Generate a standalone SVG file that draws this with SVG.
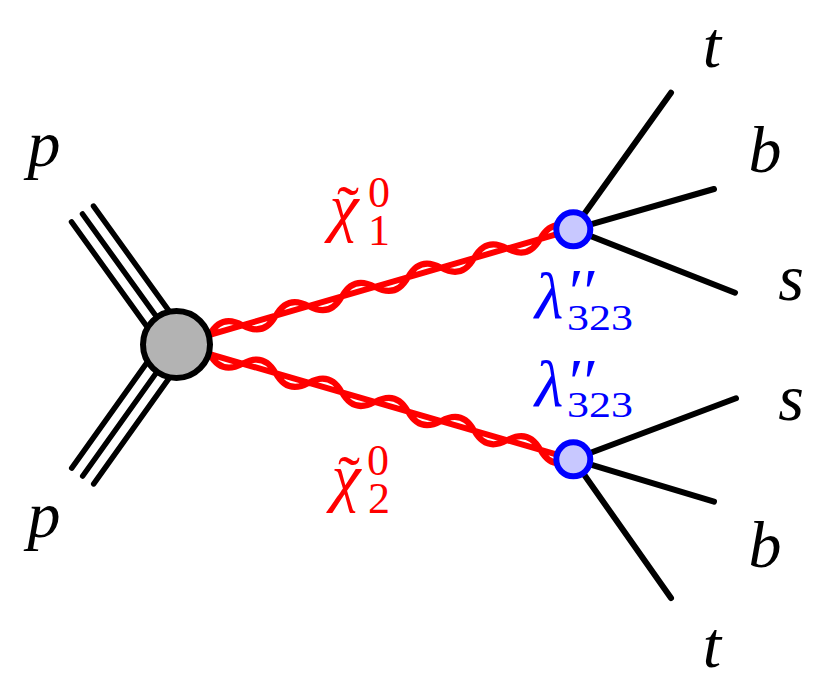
<svg xmlns="http://www.w3.org/2000/svg" width="830" height="689" viewBox="0 0 830 689">
<style>
.f{stroke:#000;stroke-width:6;stroke-linecap:round;fill:none}
.pr{stroke:#000;stroke-width:5.5;stroke-linecap:round;fill:none}
.g{stroke:#ff0000;stroke-width:6;fill:none;stroke-linecap:round;stroke-linejoin:round}
.t{font-family:"Liberation Serif","DejaVu Serif",serif;font-style:italic;font-size:66px}
.n{font-family:"Liberation Serif","DejaVu Serif",serif;font-style:normal}
.blk{fill:#000}
.red{fill:#ff0000}
.blue{fill:#0000ff}
.blob{fill:#b3b3b3;stroke:#000;stroke-width:6}
.vtx{fill:#c8c8ff;stroke:#0000ff;stroke-width:6}
</style>
<defs>
<path id="gw" d="M0,0 L413.2,0 M0,0 q17.22,17 34.43,0 t34.43,0 t34.43,0 t34.43,0 t34.43,0 t34.43,0 t34.43,0 t34.43,0 t34.43,0 t34.43,0 t34.43,0 t34.43,0"/>
</defs>
<rect width="830" height="689" fill="#fff"/>
<g id="connectors">
  <g id="proton1">
    <line class="pr" x1="93.5" y1="206.1" x2="187.5" y2="336.6"/>
    <line class="pr" x1="82.5" y1="214" x2="176.5" y2="344.5"/>
    <line class="pr" x1="71.5" y1="221.9" x2="165.5" y2="352.4"/>
  </g>
  <g id="proton2">
    <line class="pr" x1="93.7" y1="483.9" x2="187.5" y2="352.4"/>
    <line class="pr" x1="82.7" y1="476" x2="176.5" y2="344.5"/>
    <line class="pr" x1="71.7" y1="468.1" x2="165.5" y2="336.6"/>
  </g>
  <g id="chi1-line" transform="translate(176.5,344.5) rotate(-16.19)"><use href="#gw" class="g"/></g>
  <g id="chi2-line" transform="translate(176.5,344.5) rotate(16.14) scale(1,-1)"><use href="#gw" class="g"/></g>
  <line class="f" x1="573.3" y1="229.3" x2="671" y2="92.7"/>
  <line class="f" x1="573.3" y1="229.3" x2="714" y2="189"/>
  <line class="f" x1="573.3" y1="229.3" x2="735" y2="292.7"/>
  <line class="f" x1="573.3" y1="459.3" x2="736" y2="398.3"/>
  <line class="f" x1="573.3" y1="459.3" x2="714" y2="501.7"/>
  <line class="f" x1="573.3" y1="459.3" x2="671" y2="598"/>
</g>
<g id="blob"><circle class="blob" cx="176.5" cy="344.5" r="33.5"/></g>
<g id="vertex1"><circle class="vtx" cx="573.3" cy="229.3" r="17"/></g>
<g id="vertex2"><circle class="vtx" cx="573.3" cy="459.3" r="17"/></g>
<g id="labels">
  <text class="t blk" x="44" y="166" text-anchor="middle">p</text>
  <text class="t blk" x="44" y="537" text-anchor="middle">p</text>
  <text class="t blk" x="712" y="67" text-anchor="middle">t</text>
  <text class="t blk" x="765" y="172" text-anchor="middle">b</text>
  <text class="t blk" x="791" y="300" text-anchor="middle">s</text>
  <text class="t blk" x="791" y="420" text-anchor="middle">s</text>
  <text class="t blk" x="765" y="567" text-anchor="middle">b</text>
  <text class="t blk" x="712" y="667" text-anchor="middle">t</text>
</g>
<g id="chi1-label" class="red">
  <text class="t" x="344" y="229" text-anchor="middle">χ</text>
  <text class="n" x="348" y="231" font-size="66" text-anchor="middle" font-family="Liberation Serif, serif">˜</text>
  <text class="n" x="379" y="207" font-size="44" text-anchor="middle" font-family="Liberation Serif, serif">0</text>
  <text class="n" x="379" y="245" font-size="44" text-anchor="middle" font-family="Liberation Serif, serif">1</text>
</g>
<g id="chi2-label" class="red">
  <text class="t" x="346" y="499" text-anchor="middle">χ</text>
  <text class="n" x="349" y="501" font-size="66" text-anchor="middle" font-family="Liberation Serif, serif">˜</text>
  <text class="n" x="378" y="475" font-size="44" text-anchor="middle" font-family="Liberation Serif, serif">0</text>
  <text class="n" x="379" y="513" font-size="44" text-anchor="middle" font-family="Liberation Serif, serif">2</text>
</g>
<g id="lambda1-label" class="blue">
  <text class="t" x="549" y="318" font-size="58" text-anchor="middle">λ</text>
  <text class="t" x="565" y="314" font-size="56">′′</text>
  <text class="n" x="567" y="330" font-size="35" textLength="66" lengthAdjust="spacingAndGlyphs" font-family="Liberation Serif, serif">323</text>
</g>
<g id="lambda2-label" class="blue">
  <text class="t" x="549" y="406" font-size="58" text-anchor="middle">λ</text>
  <text class="t" x="565" y="404" font-size="56">′′</text>
  <text class="n" x="567" y="417" font-size="35" textLength="66" lengthAdjust="spacingAndGlyphs" font-family="Liberation Serif, serif">323</text>
</g>
</svg>
